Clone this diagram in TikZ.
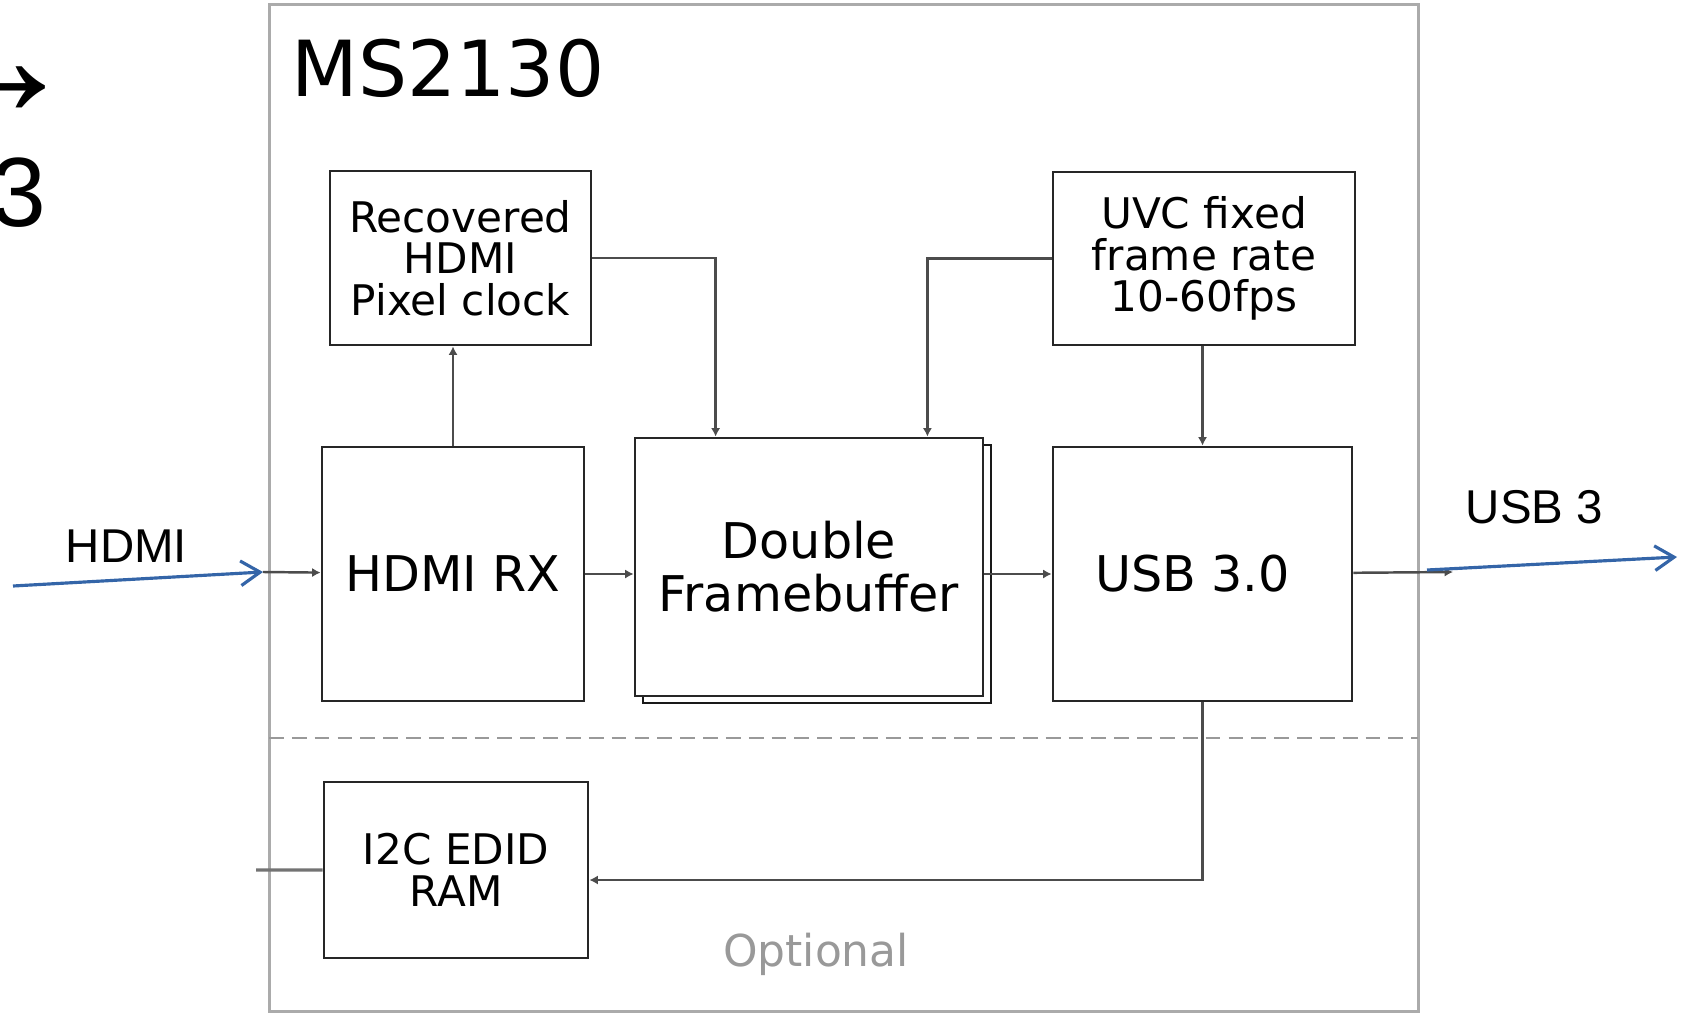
\documentclass[tikz,border=0pt]{standalone}
\usepackage{fontspec}
\setmainfont{DejaVu Sans}
\newfontfamily\arialfont{Liberation Sans}
\usetikzlibrary{arrows.meta,shadows}
\definecolor{linkblue}{RGB}{52,101,168}

\begin{document}
\begin{tikzpicture}[
        node distance=3.6cm,
        block/.style={rectangle, draw=black!85, line width=0.8pt, fill=white, align=center, inner sep=0pt, font=\fontsize{12}{11.8}\selectfont},
        bigblock/.style={block, font=\fontsize{14}{15}\selectfont},
        arrow/.style={-{Latex[length=2.4pt,width=2.6pt]}, line width=0.7pt, draw=black!70},
        feed/.style={-{Straight Barb[length=5.5pt,width=7pt]}, line width=0.9pt, draw=linkblue},
        tag/.style={font=\arialfont\fontsize{13.5}{15}\selectfont, inner sep=0pt}
    ]
        \useasboundingbox (0,0) rectangle (16.9,-10.14);
        \draw[black!33, line width=0.85pt] (2.69,-0.05) rectangle (14.18,-10.11);
        \draw[black!40, line width=0.8pt, dash pattern=on 4.2pt off 2.3pt] (2.69,-7.38) -- (14.18,-7.38);

        \node[anchor=base west, inner sep=0pt, font=\fontsize{22}{24}\selectfont] (chip) at (2.91,-0.97) {MS2130};
        \node[anchor=base, inner sep=0pt, text=black!40, font=\fontsize{12.5}{14}\selectfont] (opt) at (8.16,-9.66) {Optional};
        \node[anchor=base east, inner sep=0pt, font=\arialfont\fontsize{50}{52}\selectfont] (arr) at (0.82,-1.17) {→};
        \node[anchor=base east, inner sep=0pt, font=\arialfont\fontsize{28}{30}\selectfont] (three) at (0.47,-2.27) {3};

        \node[bigblock, minimum width=2.62cm, minimum height=2.54cm] (rx) at (4.53,-5.74) {HDMI RX};
        \node[bigblock, minimum width=3.48cm, minimum height=2.58cm, right of=rx, xshift=-0.04cm, yshift=0.07cm,
              copy shadow={shadow xshift=0.08cm, shadow yshift=-0.07cm, draw=black!90, fill=white}] (dfb) {Double\\Framebuffer};
        \node[bigblock, minimum width=2.99cm, minimum height=2.54cm, right of=dfb, xshift=0.335cm, yshift=-0.07cm] (usb) {USB 3.0\hspace*{0.2cm}};
        \node[block, minimum width=2.61cm, minimum height=1.74cm, above of=rx, xshift=0.075cm, yshift=-0.44cm] (rec) {Recovered\\HDMI\\Pixel clock};
        \node[block, minimum width=3.02cm, minimum height=1.73cm, above of=usb, xshift=0.015cm, yshift=-0.445cm] (uvc) {UVC fixed\\frame rate\\10-60fps};
        \node[block, minimum width=2.64cm, minimum height=1.76cm, below of=rx, xshift=0.03cm, yshift=0.64cm] (i2c) {I2C EDID\\RAM};

        \node[tag, anchor=base] (hdmitag) at (1.265,-5.62) {HDMI};
        \node[tag, anchor=base] (usbtag) at (15.345,-5.23) {USB 3};

        \coordinate (hdmisrc) at (0.13,-5.86);
        \coordinate (hdmiin) at (2.63,-5.72);
        \coordinate (usbout) at (14.53,-5.72);
        \coordinate (usbfrom) at (14.27,-5.70);
        \coordinate (usbdst) at (16.77,-5.57);
        \coordinate (ddc) at (2.56,-8.70);

        \draw[arrow] (hdmiin) -- (rx);
        \draw[arrow] (rx) -- (dfb.west |- rx);
        \draw[arrow] (dfb.east |- usb) -- (usb);
        \draw[arrow] (usb) -- (usbout);
        \draw[arrow] (rx.north) -- (rx.north |- rec.south);
        \draw[arrow] (rec.east) -| ([xshift=0.82cm]dfb.north west);
        \draw[arrow] (uvc.west) -| ([xshift=-0.57cm]dfb.north east);
        \draw[arrow] (uvc.south -| usb.north) -- (usb.north);
        \draw[arrow] (usb.south) |- ([yshift=-0.1cm]i2c.east);
        \draw[black!55, line width=0.9pt] (ddc) -- (i2c);

        \draw[feed] (hdmisrc) -- (hdmiin);
        \draw[feed] (usbfrom) -- (usbdst);
    \end{tikzpicture}
\end{document}
